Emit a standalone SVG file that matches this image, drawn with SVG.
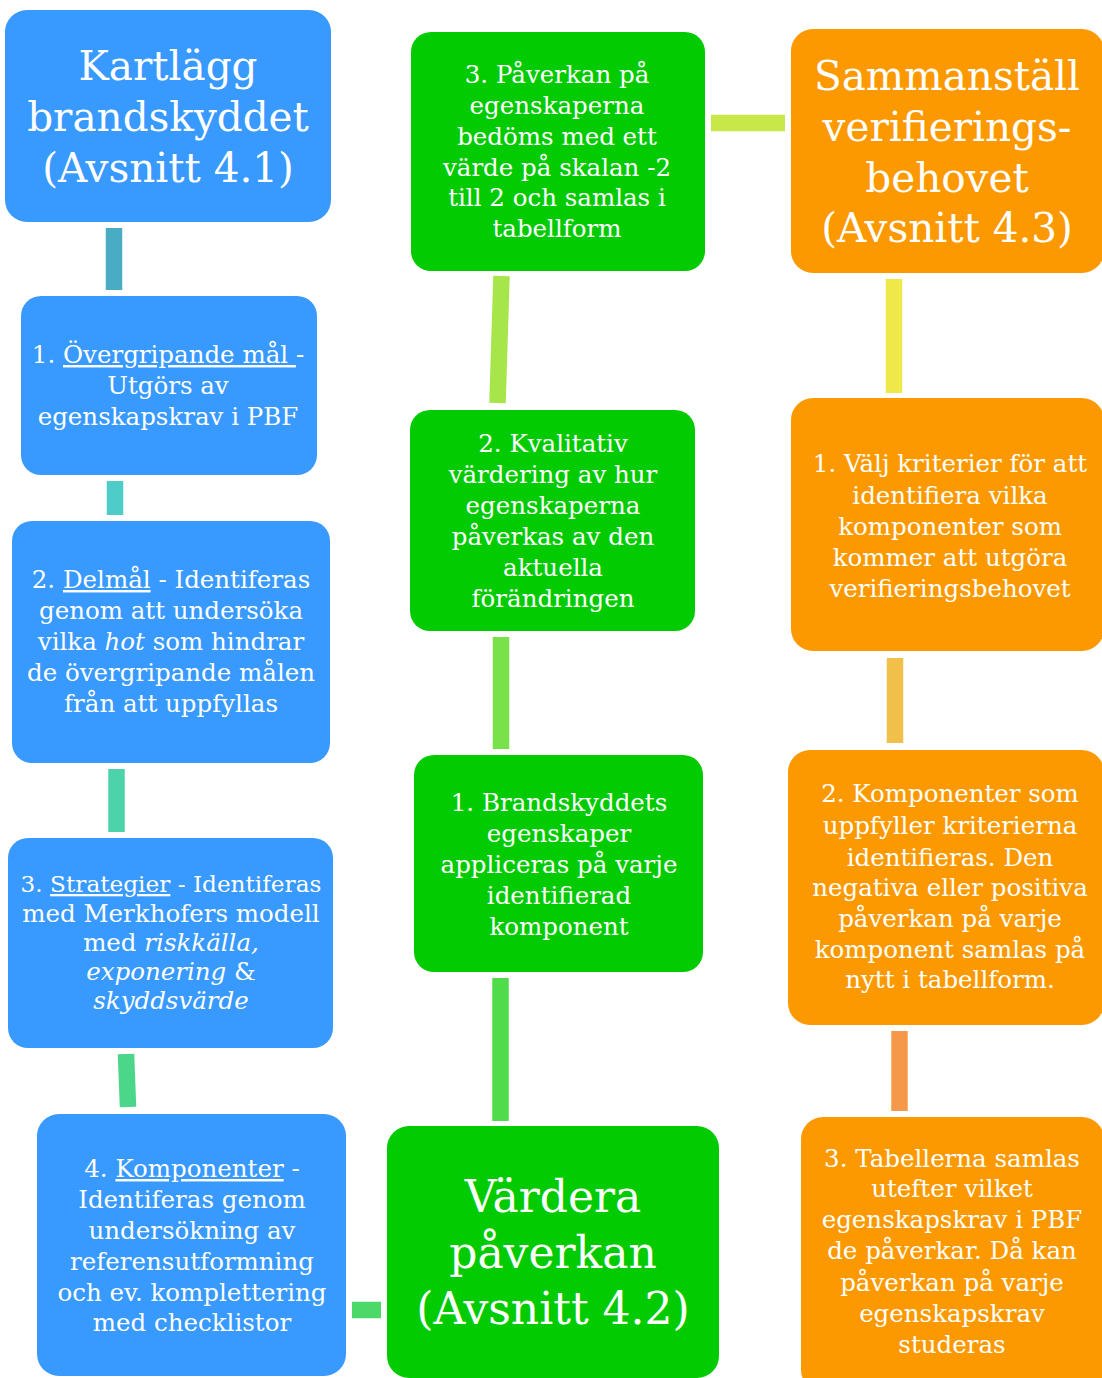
<svg xmlns="http://www.w3.org/2000/svg" width="1102" height="1378" viewBox="0 0 1102 1378">
<style>
.b{fill:#3899FE}.g{fill:#02CB02}.o{fill:#FC9900}
text{font-family:"DejaVu Serif","Liberation Serif",serif;fill:#fff;text-anchor:middle}
.t{font-size:24.5px}.h{font-size:40.5px}.hh{font-size:44px}
.u{text-decoration:underline}.i{font-style:italic}
.c{stroke-width:16.5;fill:none}
</style>
<rect width="1102" height="1378" fill="#fff"/>
<g id="connectors">
<line class="c" x1="114" y1="228" x2="114" y2="290" stroke="#4AABC4"/>
<line class="c" x1="115" y1="481" x2="115" y2="515" stroke="#4ECDC8"/>
<line class="c" x1="116.5" y1="769" x2="116.5" y2="832" stroke="#4DD3AA"/>
<line class="c" x1="126" y1="1054" x2="128" y2="1107" stroke="#4CD68A"/>
<line class="c" x1="352" y1="1310" x2="381" y2="1310" stroke="#4CD96A"/>
<line class="c" x1="500.5" y1="978" x2="500.5" y2="1121" stroke="#50DC4A"/>
<line class="c" x1="501" y1="637" x2="501" y2="749" stroke="#79E24A"/>
<line class="c" x1="501.5" y1="276" x2="497.5" y2="403" stroke="#A6E64A"/>
<line class="c" x1="711" y1="123" x2="785" y2="123" stroke="#C8E84A"/>
<line class="c" x1="894" y1="279" x2="894" y2="393" stroke="#EEE84A"/>
<line class="c" x1="895" y1="658" x2="895" y2="743" stroke="#F0C04A"/>
<line class="c" x1="899.5" y1="1031" x2="899.5" y2="1111" stroke="#F5984A"/>
</g>
<g id="kartlagg">
<rect class="b" x="5" y="10" width="326" height="212" rx="22"/>
<text class="h" x="168"><tspan x="168" y="80">Kartlägg</tspan><tspan x="168" y="131">brandskyddet</tspan><tspan x="168" y="182">(Avsnitt 4.1)</tspan></text>
</g>
<g id="overgripande">
<rect class="b" x="21" y="296" width="296" height="179" rx="20"/>
<text class="t"><tspan x="168" y="363">1. <tspan class="u">Övergripande mål </tspan>-</tspan><tspan x="168" y="394">Utgörs av</tspan><tspan x="168" y="425">egenskapskrav i PBF</tspan></text>
</g>
<g id="delmal">
<rect class="b" x="12" y="521" width="318" height="242" rx="20"/>
<text class="t"><tspan x="171" y="588">2. <tspan class="u">Delmål</tspan> - Identiferas</tspan><tspan x="171" y="619">genom att undersöka</tspan><tspan x="171" y="650">vilka <tspan class="i">hot</tspan> som hindrar</tspan><tspan x="171" y="681">de övergripande målen</tspan><tspan x="171" y="712">från att uppfyllas</tspan></text>
</g>
<g id="strategier">
<rect class="b" x="8" y="838" width="325" height="210" rx="20"/>
<text class="t"><tspan x="171" y="892" style="font-size:23.2px">3. <tspan class="u">Strategier</tspan> - Identiferas</tspan><tspan x="171" y="922">med Merkhofers modell</tspan><tspan x="171" y="951">med <tspan class="i">riskkälla,</tspan></tspan><tspan x="171" y="980"><tspan class="i">exponering</tspan> &amp;</tspan><tspan x="171" y="1009" class="i">skyddsvärde</tspan></text>
</g>
<g id="komponenter">
<rect class="b" x="37" y="1114" width="309" height="262" rx="22"/>
<text class="t"><tspan x="192" y="1177">4. <tspan class="u">Komponenter</tspan> -</tspan><tspan x="192" y="1208">Identiferas genom</tspan><tspan x="192" y="1239">undersökning av</tspan><tspan x="192" y="1270">referensutformning</tspan><tspan x="192" y="1301">och ev. komplettering</tspan><tspan x="192" y="1331">med checklistor</tspan></text>
</g>
<g id="paverkan3">
<rect class="g" x="411" y="32" width="294" height="239" rx="20"/>
<text class="t"><tspan x="557" y="83">3. Påverkan på</tspan><tspan x="557" y="114">egenskaperna</tspan><tspan x="557" y="145">bedöms med ett</tspan><tspan x="557" y="176">värde på skalan -2</tspan><tspan x="557" y="206">till 2 och samlas i</tspan><tspan x="557" y="237">tabellform</tspan></text>
</g>
<g id="kvalitativ">
<rect class="g" x="410" y="410" width="285" height="221" rx="20"/>
<text class="t"><tspan x="553" y="452">2. Kvalitativ</tspan><tspan x="553" y="483">värdering av hur</tspan><tspan x="553" y="514">egenskaperna</tspan><tspan x="553" y="545">påverkas av den</tspan><tspan x="553" y="576">aktuella</tspan><tspan x="553" y="607">förändringen</tspan></text>
</g>
<g id="brandskyddets">
<rect class="g" x="414" y="755" width="289" height="217" rx="20"/>
<text class="t"><tspan x="559" y="811">1. Brandskyddets</tspan><tspan x="559" y="842">egenskaper</tspan><tspan x="559" y="873">appliceras på varje</tspan><tspan x="559" y="904">identifierad</tspan><tspan x="559" y="935">komponent</tspan></text>
</g>
<g id="vardera">
<rect class="g" x="387" y="1126" width="332" height="252" rx="22"/>
<text class="hh"><tspan x="553" y="1212">Värdera</tspan><tspan x="553" y="1268">påverkan</tspan><tspan x="553" y="1324">(Avsnitt 4.2)</tspan></text>
</g>
<g id="sammanstall">
<rect class="o" x="791" y="29" width="313" height="244" rx="22"/>
<text class="h"><tspan x="947" y="90">Sammanställ</tspan><tspan x="947" y="141">verifierings-</tspan><tspan x="947" y="192">behovet</tspan><tspan x="947" y="242">(Avsnitt 4.3)</tspan></text>
</g>
<g id="valj">
<rect class="o" x="791" y="398" width="313" height="253" rx="22"/>
<text class="t"><tspan x="950" y="472">1. Välj kriterier för att</tspan><tspan x="950" y="504">identifiera vilka</tspan><tspan x="950" y="535">komponenter som</tspan><tspan x="950" y="566">kommer att utgöra</tspan><tspan x="950" y="597">verifieringsbehovet</tspan></text>
</g>
<g id="komponenter-som">
<rect class="o" x="788" y="750" width="316" height="275" rx="22"/>
<text class="t"><tspan x="950" y="802">2. Komponenter som</tspan><tspan x="950" y="834">uppfyller kriterierna</tspan><tspan x="950" y="866">identifieras. Den</tspan><tspan x="950" y="896">negativa eller positiva</tspan><tspan x="950" y="927">påverkan på varje</tspan><tspan x="950" y="958">komponent samlas på</tspan><tspan x="950" y="988">nytt i tabellform.</tspan></text>
</g>
<g id="tabellerna">
<rect class="o" x="801" y="1117" width="303" height="275" rx="22"/>
<text class="t"><tspan x="952" y="1167">3. Tabellerna samlas</tspan><tspan x="952" y="1197">utefter vilket</tspan><tspan x="952" y="1228">egenskapskrav i PBF</tspan><tspan x="952" y="1259">de påverkar. Då kan</tspan><tspan x="952" y="1291">påverkan på varje</tspan><tspan x="952" y="1322">egenskapskrav</tspan><tspan x="952" y="1353">studeras</tspan></text>
</g>
</svg>
